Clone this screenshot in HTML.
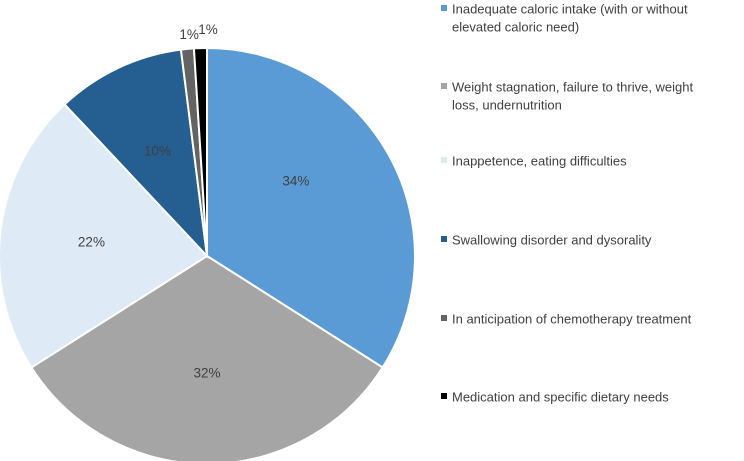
<!DOCTYPE html>
<html><head><meta charset="utf-8"><style>
body{margin:0;background:#fff;width:744px;height:461px;overflow:hidden;font-family:"Liberation Sans",sans-serif}
svg{position:absolute;left:0;top:0}
</style></head><body>
<svg width="744" height="461" id="chart"></svg>
<script>
const categories=["Inadequate caloric intake (with or without|elevated caloric need)"," Weight stagnation, failure to thrive, weight|loss, undernutrition","Inappetence, eating difficulties","Swallowing disorder and dysorality","In anticipation of chemotherapy treatment","Medication and specific dietary needs"];
const values=[34,32,22,10,1,1];
const colors=["#5b9bd5","#a5a5a5","#deebf7","#255e91","#636363","#000000"];
const svg=document.getElementById('chart');
const NS="http://www.w3.org/2000/svg";
const cx=207,cy=256,r=208;
const total=values.reduce((a,b)=>a+b,0);
function pt(a,rad){return [cx+rad*Math.sin(a),cy-rad*Math.cos(a)];}
let a0=0;
values.forEach((v,i)=>{
  const a1=a0+v/total*2*Math.PI;
  const p0=pt(a0,r),p1=pt(a1,r);
  const large=(a1-a0)>Math.PI?1:0;
  const path=document.createElementNS(NS,'path');
  path.setAttribute('d',`M${cx},${cy}L${p0[0]},${p0[1]}A${r},${r} 0 ${large} 1 ${p1[0]},${p1[1]}Z`);
  path.setAttribute('fill',colors[i]);
  path.setAttribute('stroke','#fff');
  path.setAttribute('stroke-width','2');
  
  
  svg.appendChild(path);
  const mid=(a0+a1)/2;
  const small=v<3;
  const lp=small?pt(mid,r+14):pt(mid-(i==0?0.2:0),r*0.56);
  const t=document.createElementNS(NS,'text');
  t.setAttribute('x',lp[0]+(small?(i==4?3:8):0));
  t.setAttribute('y',lp[1]+(small?(i==4?4:0):5));
  t.setAttribute('text-anchor','middle');
  t.setAttribute('font-size','13.5');
  t.setAttribute('fill','#404040');
  t.textContent=v+'%';
  
  
  svg.appendChild(t);
  a0=a1;
});
const ly=[9,87,161,240,319,397];
categories.forEach((c,i)=>{
  const g=document.createElementNS(NS,'g');
  
  
  const s=document.createElementNS(NS,'rect');
  s.setAttribute('x',441);s.setAttribute('y',ly[i]-4);s.setAttribute('width',6);s.setAttribute('height',6);
  s.setAttribute('fill',colors[i]);
  
  
  g.appendChild(s);
  c.split('|').forEach((line,j)=>{
    const t=document.createElementNS(NS,'text');
    t.setAttribute('x',452);t.setAttribute('y',ly[i]+4.5+j*18);
    t.setAttribute('font-size','13');t.setAttribute('fill','#404040');
    t.setAttribute('xml:space','preserve');
    t.textContent=line;
    
    
    g.appendChild(t);
  });
  svg.appendChild(g);
});
</script>
</body></html>
